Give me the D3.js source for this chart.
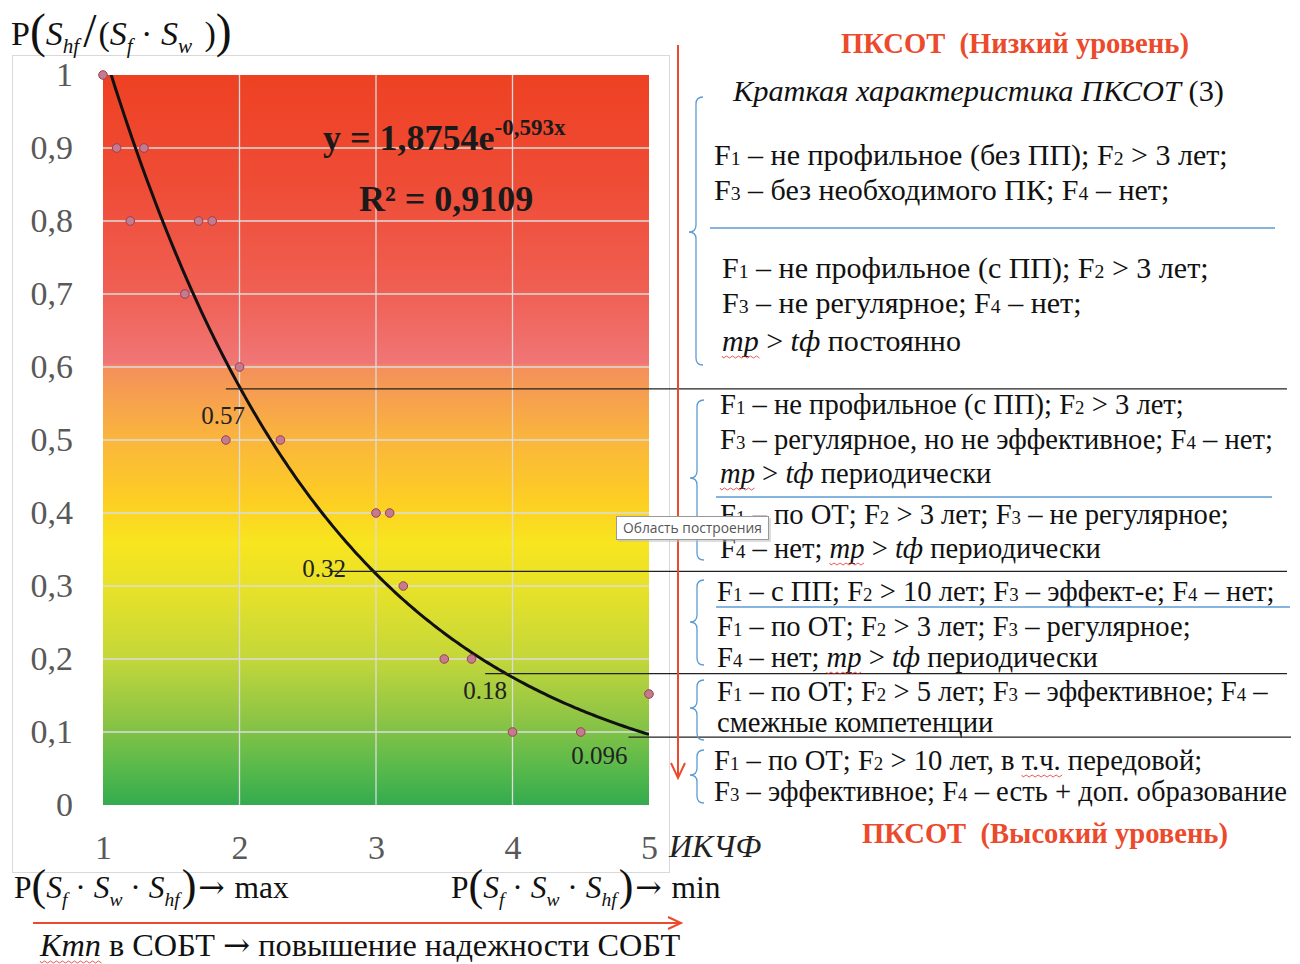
<!DOCTYPE html>
<html>
<head>
<meta charset="utf-8">
<script src="https://cdn.jsdelivr.net/npm/d3@7"></script>
<style>
  body { margin: 0; background: #fff; }
  text { white-space: pre; }
</style>
</head>
<body>
<svg id="chart" width="1300" height="964"></svg>
<script>
// --- data ---
const pointsX = [1, 1.1, 1.3, 1.2, 1.7, 1.8, 1.6, 2, 1.9, 2.3, 3, 3.1, 3.2, 3.5, 3.7, 4, 4.5, 5];
const pointsY = [1, 0.9, 0.9, 0.8, 0.8, 0.8, 0.7, 0.6, 0.5, 0.5, 0.4, 0.4, 0.3, 0.2, 0.2, 0.1, 0.1, 0.152];
const trendA = 1.8754;
const trendB = -0.593;
const xTicks = [1, 2, 3, 4, 5];
const yTicks = [0, 0.1, 0.2, 0.3, 0.4, 0.5, 0.6, 0.7, 0.8, 0.9, 1];
const yTickLabels = ['0', '0,1', '0,2', '0,3', '0,4', '0,5', '0,6', '0,7', '0,8', '0,9', '1'];
const levelValues = [0.57, 0.32, 0.18, 0.093];
const levelLabels = ['0.57', '0.32', '0.18', '0.096'];
const levelStartX = [1.9, 2.66, 3.8, 4.85];
const levelLabelX = [1.72, 2.46, 3.64, 4.43];
const bgStops = [
  [1, '#ee4123'], [0.85, '#ef4c36'], [0.7, '#f06054'], [0.605, '#f07676'],
  [0.6, '#f4905c'], [0.5, '#fab63c'], [0.42, '#fdcd24'], [0.36, '#f8e51f'],
  [0.28, '#e2e02b'], [0.2, '#c3d73a'], [0.12, '#8fc545'], [0.05, '#58b94b'], [0, '#33ab4f']
];
// markup: _1 subscript, *x* italic, ~x~ italic with red wavy underline, %x% wavy underline
const noteLines = [
  'F_1 – не профильное (без ПП); F_2 > 3 лет;',
  'F_3 – без необходимого ПК; F_4 – нет;',
  'F_1 – не профильное (с ПП); F_2 > 3 лет;',
  'F_3 – не регулярное; F_4 – нет;',
  '~тр~ > *tф* постоянно',
  'F_1 – не профильное (с ПП); F_2 > 3 лет;',
  'F_3 – регулярное, но не эффективное; F_4 – нет;',
  '~тр~ > *tф* периодически',
  'F_1 – по ОТ; F_2 > 3 лет; F_3 – не регулярное;',
  'F_4 – нет; ~тр~ > *tф* периодически',
  'F_1 – с ПП; F_2 > 10 лет; F_3 – эффект-е; F_4 – нет;',
  'F_1 – по ОТ; F_2 > 3 лет; F_3 – регулярное;',
  'F_4 – нет; ~тр~ > *tф* периодически',
  'F_1 – по ОТ; F_2 > 5 лет; F_3 – эффективное; F_4 –',
  'смежные компетенции',
  'F_1 – по ОТ; F_2 > 10 лет, в %т.ч.% передовой;',
  'F_3 – эффективное; F_4 – есть + доп. образование'
];
const noteX = [714, 714, 722, 722, 722, 720, 720, 720, 720, 720, 717, 717, 717, 717, 717, 714, 714];
const noteY = [165, 200, 278, 313, 351, 414, 449, 483, 524, 558, 601, 636, 667, 701, 732, 770, 801];

const serif = '"Liberation Serif", "Times New Roman", serif';
const red = '#ec4a2c';
const blue = '#5b9bd5';

const svg = d3.select('#chart');
const x = d3.scaleLinear().domain([1, 5]).range([103, 649]);
const y = d3.scaleLinear().domain([0, 1]).range([805, 75]);

// chart frame
svg.append('rect').attr('x', 12.5).attr('y', 55.5).attr('width', 657).attr('height', 817)
  .attr('fill', '#fff').attr('stroke', '#d9d9d9');

const defs = svg.append('defs');
const grad = defs.append('linearGradient').attr('id', 'bg')
  .attr('x1', 0).attr('y1', 0).attr('x2', 0).attr('y2', 1);
grad.selectAll('stop').data(bgStops).join('stop')
  .attr('offset', d => (y(d[0]) - y(1)) / (y(0) - y(1)))
  .attr('stop-color', d => d[1]);
defs.append('clipPath').attr('id', 'plotclip').append('rect')
  .attr('x', x(1)).attr('y', y(1)).attr('width', x(5) - x(1)).attr('height', y(0) - y(1));

svg.append('rect').attr('x', x(1)).attr('y', y(1))
  .attr('width', x(5) - x(1)).attr('height', y(0) - y(1)).attr('fill', 'url(#bg)');

// grid
svg.append('g').selectAll('line').data(yTicks.slice(1, -1)).join('line')
  .attr('x1', x(1)).attr('x2', x(5)).attr('y1', d => y(d)).attr('y2', d => y(d))
  .attr('stroke', '#dcdcdc').attr('stroke-width', 1.3);
svg.append('g').selectAll('line').data(xTicks.slice(1, -1)).join('line')
  .attr('x1', d => x(d)).attr('x2', d => x(d)).attr('y1', y(1)).attr('y2', y(0))
  .attr('stroke', '#dcdcdc').attr('stroke-width', 1.3);

// axes
const yAxis = svg.append('g').attr('transform', `translate(${x(1)},0)`)
  .call(d3.axisLeft(y).tickValues(yTicks).tickSize(0).tickPadding(30)
    .tickFormat((d, i) => yTickLabels[i]));
const xAxis = svg.append('g').attr('transform', `translate(0,${y(0)})`)
  .call(d3.axisBottom(x).tickValues(xTicks).tickSize(0).tickPadding(30).tickFormat(d3.format('d')));
[yAxis, xAxis].forEach(a => {
  a.select('.domain').remove();
  a.selectAll('text').attr('font-family', serif).attr('font-size', 34).attr('fill', '#595959');
});

// trend line
const trendX = d3.range(1, 5.0001, 0.02);
svg.append('path')
  .datum(trendX)
  .attr('clip-path', 'url(#plotclip)')
  .attr('fill', 'none').attr('stroke', '#111').attr('stroke-width', 3)
  .attr('d', d3.line().x(d => x(d)).y(d => y(trendA * Math.exp(trendB * d))));

// points
svg.append('g').selectAll('circle').data(pointsX).join('circle')
  .attr('cx', d => x(d)).attr('cy', (d, i) => y(pointsY[i])).attr('r', 4.3)
  .attr('fill', '#c47b8e').attr('stroke', '#9b3d55').attr('stroke-width', 1);

// equation
const eq = svg.append('text').attr('x', 323).attr('y', 150)
  .attr('font-family', serif).attr('font-weight', 'bold').attr('font-size', 36).attr('fill', '#1a1a1a');
eq.append('tspan').text('y = 1,8754e');
eq.append('tspan').attr('dy', -15).attr('font-size', 23).text('-0,593x');
svg.append('text').attr('x', 359).attr('y', 211)
  .attr('font-family', serif).attr('font-weight', 'bold').attr('font-size', 36).attr('fill', '#1a1a1a')
  .text('R² = 0,9109');

// level lines and labels
const labelDy = [35, 6, 25, 27];
svg.append('g').selectAll('line').data(levelValues).join('line')
  .attr('x1', (d, i) => x(levelStartX[i])).attr('x2', (d, i) => i === 3 ? 1291 : 1287)
  .attr('y1', d => y(d)).attr('y2', d => y(d))
  .attr('stroke', '#222').attr('stroke-width', 1.2);
svg.append('g').selectAll('text').data(levelLabels).join('text')
  .attr('x', (d, i) => x(levelLabelX[i])).attr('y', (d, i) => y(levelValues[i]) + labelDy[i])
  .attr('font-family', serif).attr('font-size', 25).attr('fill', '#222')
  .text(d => d);

// generic inline layout: segments laid out one after another
function layout(g, x0, y0, segs, size) {
  let cx = x0;
  segs.forEach(s => {
    const fs = size * (s.scale || 1);
    const t = g.append('text').attr('x', cx).attr('y', y0 + (s.dy || 0))
      .attr('font-family', s.font || serif).attr('font-size', fs).attr('fill', s.fill || '#111')
      .attr('font-style', s.it ? 'italic' : 'normal').text(s.t);
    const w = t.node().getComputedTextLength();
    if (s.sq) {
      let p = `M${cx},${y0 + 5}`;
      for (let k = 0; cx + k * 3 < cx + w; k++) p += `L${cx + k * 3 + 1.5},${y0 + (k % 2 ? 5 : 7)}`;
      g.append('path').attr('d', p).attr('fill', 'none').attr('stroke', '#e03030').attr('stroke-width', 0.8);
    }
    cx += w + (s.gap || 0);
  });
  return cx;
}

function parse(str) {
  const segs = [];
  const re = /_(\d)|\*([^*]+)\*|~([^~]+)~|%([^%]+)%|([^_*~%]+)/g;
  let m;
  while ((m = re.exec(str))) {
    if (m[1]) segs.push({ t: m[1], scale: 0.66 });
    else if (m[2]) segs.push({ t: m[2], it: true });
    else if (m[3]) segs.push({ t: m[3], it: true, sq: true });
    else if (m[4]) segs.push({ t: m[4], sq: true });
    else segs.push({ t: m[5] });
  }
  return segs;
}

const notes = svg.append('g');
noteLines.forEach((s, i) => layout(notes, noteX[i], noteY[i], parse(s), i < 5 ? 30 : 28.6));

// italic heading
layout(notes, 733, 101, [{ t: 'Краткая характеристика ПКСОТ', it: true }, { t: ' (3)' }], 30.4);

// red headings
svg.append('text').attr('x', 1015).attr('y', 53).attr('text-anchor', 'middle')
  .attr('font-family', serif).attr('font-weight', 'bold').attr('font-size', 28.6).attr('fill', red)
  .text('ПКСОТ  (Низкий уровень)');
svg.append('text').attr('x', 1045).attr('y', 843).attr('text-anchor', 'middle')
  .attr('font-family', serif).attr('font-weight', 'bold').attr('font-size', 28.6).attr('fill', red)
  .text('ПКСОТ  (Высокий уровень)');

// blue separators
const seps = [[710, 1275, 228], [716, 1272, 497], [716, 1290, 607]];
svg.append('g').selectAll('line').data(seps).join('line')
  .attr('x1', d => d[0]).attr('x2', d => d[1]).attr('y1', d => d[2]).attr('y2', d => d[2])
  .attr('stroke', blue).attr('stroke-width', 1.5);

// braces
function brace(xb, y1, ym, y2) {
  const w = 7, r = 7;
  return `M${xb + w},${y1} Q${xb},${y1} ${xb},${y1 + r} L${xb},${ym - r} Q${xb},${ym} ${xb - w},${ym}` +
    ` Q${xb},${ym} ${xb},${ym + r} L${xb},${y2 - r} Q${xb},${y2} ${xb + w},${y2}`;
}
const braces = [[696, 97, 232, 365], [697, 400, 478, 560], [697, 580, 622, 665], [697, 680, 708, 740], [697, 750, 775, 803]];
svg.append('g').selectAll('path').data(braces).join('path')
  .attr('d', d => brace(...d)).attr('fill', 'none').attr('stroke', blue).attr('stroke-width', 1.3);

// red arrows
svg.append('line').attr('x1', 678).attr('x2', 678).attr('y1', 45).attr('y2', 777)
  .attr('stroke', red).attr('stroke-width', 2);
svg.append('path').attr('d', 'M671,763 L678,778 L685,763').attr('fill', 'none')
  .attr('stroke', red).attr('stroke-width', 2);
svg.append('line').attr('x1', 33).attr('x2', 680).attr('y1', 923).attr('y2', 923)
  .attr('stroke', red).attr('stroke-width', 2);
svg.append('path').attr('d', 'M668,917 L681,923 L668,929').attr('fill', 'none')
  .attr('stroke', red).attr('stroke-width', 2);

// formulas
const big = 1.4;
const arrowFont = '"DejaVu Serif", serif';
layout(svg, 11, 45, [
  { t: 'P' }, { t: '(', scale: big, dy: 2 }, { t: 'S', it: true }, { t: 'hf', it: true, scale: 0.62, dy: 8, gap: 4 },
  { t: '/', scale: big, dy: 2, gap: 2 }, { t: '(' }, { t: 'S', it: true }, { t: 'f', it: true, scale: 0.62, dy: 8 },
  { t: ' · ' }, { t: 'S', it: true }, { t: 'w', it: true, scale: 0.62, dy: 8, gap: 4 }, { t: ' )' }, { t: ')', scale: big, dy: 2 }
], 34);

function prodFormula(x0, tail) {
  layout(svg, x0, 898, [
    { t: 'P' }, { t: '(', scale: big, dy: 2 }, { t: 'S', it: true }, { t: 'f', it: true, scale: 0.62, dy: 8 },
    { t: ' · ' }, { t: 'S', it: true }, { t: 'w', it: true, scale: 0.62, dy: 8 },
    { t: ' · ' }, { t: 'S', it: true }, { t: 'hf', it: true, scale: 0.62, dy: 8, gap: 2 },
    { t: ')', scale: big, dy: 2, gap: 2 }, { t: '→', font: arrowFont, gap: 2 }, { t: ' ' + tail }
  ], 31.5);
}
prodFormula(14, 'max');
prodFormula(451, 'min');

layout(svg, 40, 956, [{ t: 'Ктп', it: true, sq: true }, { t: ' в СОБТ ' }, { t: '→', font: arrowFont },
  { t: ' повышение надежности СОБТ' }], 32.3);

// x axis title
svg.append('text').attr('x', 669).attr('y', 857)
  .attr('font-family', serif).attr('font-style', 'italic').attr('font-size', 32).attr('fill', '#222')
  .text('ИКЧФ');

// tooltip box
const tip = svg.append('g');
tip.append('rect').attr('x', 618).attr('y', 518).attr('width', 153).attr('height', 24).attr('fill', '#bbb').attr('opacity', 0.5);
tip.append('rect').attr('x', 616.5).attr('y', 516.5).attr('width', 152).attr('height', 23)
  .attr('fill', '#fff').attr('stroke', '#999');
tip.append('text').attr('x', 623).attr('y', 533).attr('font-family', '"Open Sans", "DejaVu Sans", sans-serif')
  .attr('font-size', 13.8).attr('fill', '#555').text('Область построения');
</script>
</body>
</html>
